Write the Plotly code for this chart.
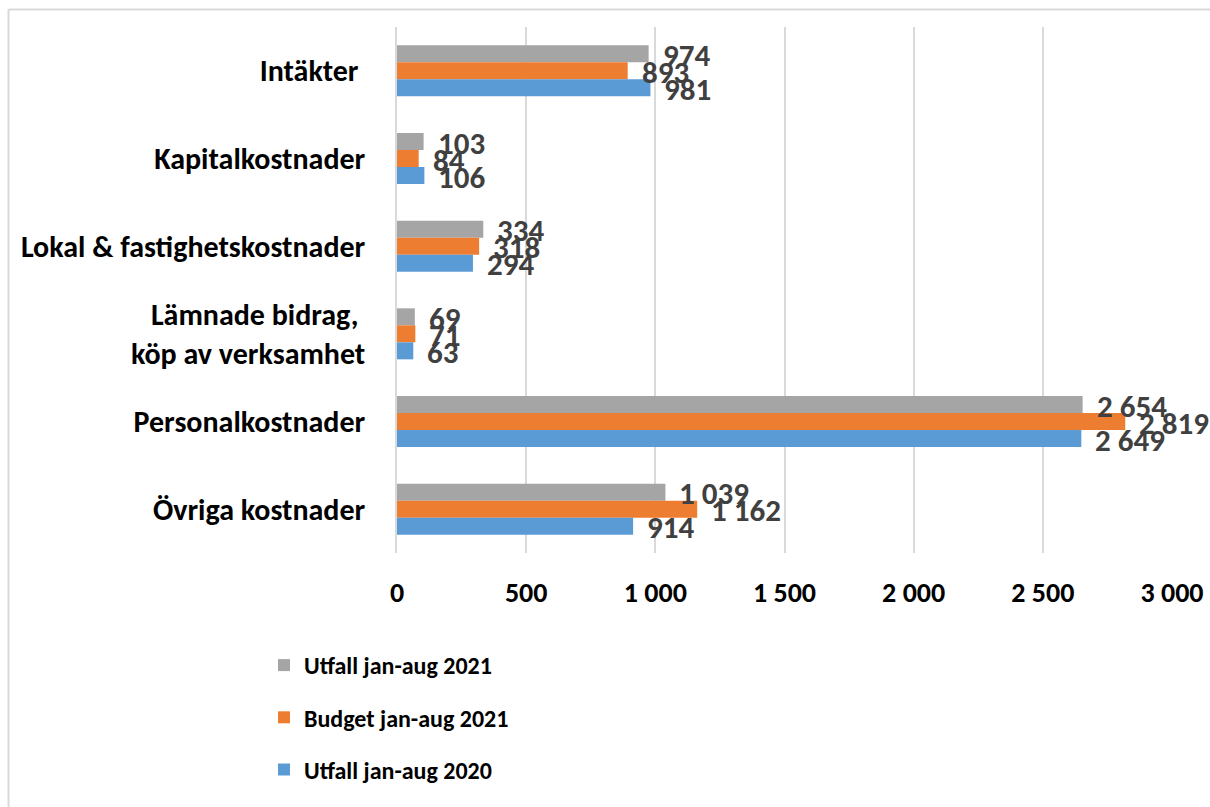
import plotly.graph_objects as go

categories = ["Intäkter ", "Kapitalkostnader", "Lokal & fastighetskostnader",
              "Lämnade bidrag,\u00a0<br>köp av verksamhet", "Personalkostnader", "Övriga kostnader"]
utfall_2021 = [974, 103, 334, 69, 2654, 1039]
budget_2021 = [893, 84, 318, 71, 2819, 1162]
utfall_2020 = [981, 106, 294, 63, 2649, 914]

series = [
    ("Utfall jan-aug 2021", utfall_2021, "#A5A5A5"),
    ("Budget jan-aug 2021", budget_2021, "#ED7D31"),
    ("Utfall jan-aug 2020", utfall_2020, "#5B9BD5"),
]
x_ticks = [0, 500, 1000, 1500, 2000, 2500, 3000]

W, H = 1210, 807
FONT = "Carlito, Lato, sans-serif"

def fmt(v):
    return f"{v:,}".replace(",", " ")

fig = go.Figure()
for i, (name, vals, col) in enumerate(series):
    fig.add_trace(go.Bar(
        y=categories, x=vals, name=name, orientation="h",
        marker=dict(color=col, line=dict(width=0)),
        legendgroup=f"g{i}",
    ))

shifts = [17, 0, -17]
annotations = []
for (name, vals, col), ys in zip(series, shifts):
    for cat, v in zip(categories, vals):
        annotations.append(dict(
            x=v, y=cat, xref="x", yref="y", text=fmt(v), showarrow=False,
            xanchor="left", yanchor="middle", xshift=12, yshift=ys - 1,
            font=dict(family=FONT, size=31, color="#404040", weight="bold"),
        ))

l, r, t, b = 397, 38, 27, 254
fig.update_layout(
    width=W, height=H,
    margin=dict(l=l, r=r, t=t, b=b, autoexpand=False),
    paper_bgcolor="white", plot_bgcolor="white",
    barmode="group", bargap=0.418, bargroupgap=0,
    separators=", ",
    font=dict(family=FONT, color="black"),
    xaxis=dict(range=[0, 3000], tickvals=x_ticks, ticktext=[fmt(v) for v in x_ticks],
               showgrid=True, gridcolor="#D9D9D9", gridwidth=1.5,
               zeroline=False, showline=False, ticks="", automargin=False,
               tickfont=dict(family=FONT, size=28, color="black", weight="bold"),
               ticklabelstandoff=20),
    yaxis=dict(autorange="reversed", showgrid=False, zeroline=False, automargin=False,
               showline=True, linecolor="#D9D9D9", linewidth=1.5, ticks="",
               tickfont=dict(family=FONT, size=30, color="black", weight="bold"),
               ticklabelstandoff=24),
    legend=dict(xref="container", yref="container", x=264 / W, y=1 - 643 / H,
                xanchor="left", yanchor="top", tracegroupgap=18,
                traceorder="grouped",
                font=dict(family=FONT, size=24, color="black", weight="bold"),
                bgcolor="rgba(0,0,0,0)"),
    annotations=annotations,
    shapes=[
        dict(type="line", xref="paper", yref="paper",
             x0=(9 - l) / (W - l - r), x1=(W - l) / (W - l - r),
             y0=1 + (t - 9.5) / (H - t - b), y1=1 + (t - 9.5) / (H - t - b),
             line=dict(color="#D9D9D9", width=2)),
        dict(type="line", xref="paper", yref="paper",
             x0=(8.5 - l) / (W - l - r), x1=(8.5 - l) / (W - l - r),
             y0=1 + (t - 9) / (H - t - b), y1=-(b) / (H - t - b),
             line=dict(color="#D9D9D9", width=2)),
    ],
)

fig.write_html("out.html", config={"displayModeBar": False},
               post_script="document.body.style.margin='0px';")
